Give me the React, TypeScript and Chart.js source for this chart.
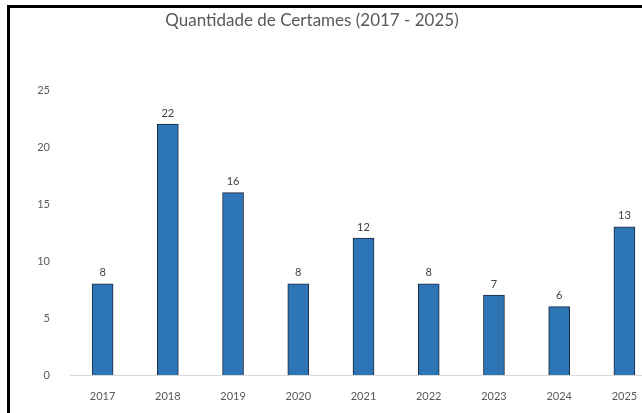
import React, { useEffect, useRef } from "react";
import { Chart, registerables } from "chart.js";

Chart.register(...registerables);

const TITLE = "Quantidade de Certames (2017 - 2025)";
const categories = ["2017", "2018", "2019", "2020", "2021", "2022", "2023", "2024", "2025"];
const values = [8, 22, 16, 8, 12, 8, 7, 6, 13];
const yTicks = [0, 5, 10, 15, 20, 25];

const FONT = "Lato, 'Open Sans', sans-serif";
const GRAY = "#595959";

const titleAndLabels = {
  id: "titleAndLabels",
  afterDatasetsDraw(chart: any) {
    const ctx = chart.ctx;
    ctx.save();
    const meta = chart.getDatasetMeta(0);
    ctx.fillStyle = "#404040";
    ctx.font = `11px ${FONT}`;
    ctx.textAlign = "center";
    ctx.textBaseline = "middle";
    meta.data.forEach((bar: any, i: number) => {
      ctx.fillText(String(values[i]), bar.x, bar.y - 11);
    });
    ctx.fillStyle = GRAY;
    ctx.font = `17px ${FONT}`;
    ctx.fillText(TITLE, 312 - 10, 21 - 8);
    ctx.restore();
  },
};

export default function App() {
  const ref = useRef<HTMLCanvasElement>(null);
  useEffect(() => {
    document.body.style.margin = "0";
    const chart = new Chart(ref.current!, {
      type: "bar",
      data: {
        labels: categories,
        datasets: [
          {
            data: values,
            backgroundColor: "#2e75b6",
            borderColor: "#1c2a3f",
            borderWidth: 1,
            barThickness: 21,
          },
        ],
      },
      options: {
        animation: false,
        responsive: false,
        devicePixelRatio: 1,
        layout: { padding: { left: 0, right: 53, top: 82, bottom: 0 } },
        plugins: {
          legend: { display: false },
          tooltip: { enabled: false },
          title: { display: false },
        },
        scales: {
          x: {
            grid: { display: false },
            border: { display: true, color: "#d9d9d9", width: 1 },
            ticks: { color: GRAY, font: { family: FONT, size: 11 }, padding: 7 },
            afterFit: (s: any) => {
              s.height = 38;
            },
          },
          y: {
            min: 0,
            max: 25,
            grid: { display: false },
            border: { display: false },
            afterBuildTicks: (s: any) => {
              s.ticks = yTicks.map((v) => ({ value: v }));
            },
            ticks: { color: GRAY, font: { family: FONT, size: 11 }, padding: 12 },
            afterFit: (s: any) => {
              s.width = 60;
            },
          },
        },
      },
      plugins: [titleAndLabels],
    });
    return () => chart.destroy();
  }, []);

  return (
    <div style={{ position: "fixed", left: 0, top: 0, width: 642, height: 413, overflow: "hidden", background: "#fff" }}>
      <div
        style={{
          position: "absolute",
          left: 7,
          top: 5,
          width: 720,
          height: 420,
          borderLeft: "3px solid #000",
          borderTop: "3px solid #000",
          boxSizing: "border-box",
        }}
      >
        <canvas ref={ref} width={700} height={405} style={{ display: "block" }} />
      </div>
    </div>
  );
}
